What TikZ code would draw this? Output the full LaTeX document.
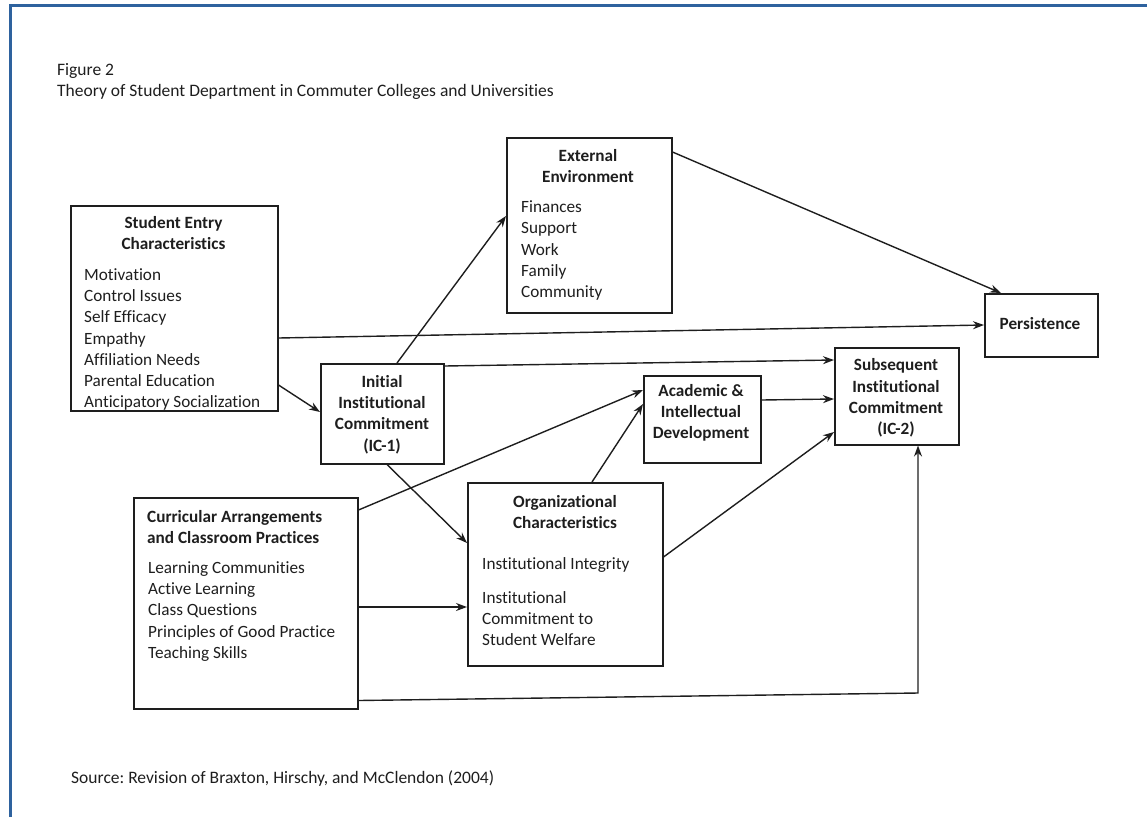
\documentclass[tikz,border=0pt]{standalone}
\usepackage{fontspec}
\setmainfont{Carlito}[Ligatures=NoCommon]
\usetikzlibrary{calc,arrows.meta}
\definecolor{framecol}{RGB}{46,98,158}
\definecolor{ink}{RGB}{30,30,30}
\frenchspacing
\begin{document}
\begin{tikzpicture}[x=1pt,y=-1pt,
  box/.style={draw=ink,line width=1.5pt,inner sep=0pt,anchor=north west},
  txt/.style={text=ink,inner sep=0pt,font=\fontsize{17.2}{21.3}\selectfont},
  ttl/.style={txt,font=\fontsize{17.2}{21.3}\selectfont\bfseries,align=center},
  lst/.style={txt,align=left,anchor=west},
  hdr/.style={txt,anchor=west,font=\fontsize{17.5}{21}\selectfont},
  conn/.style={draw=ink,line width=1.4pt},
  arr/.style={conn,-{Stealth[length=11pt,width=8pt]}}]
\useasboundingbox (0,0) rectangle (1147,817);
\draw[framecol,line width=3pt] (10,817) -- (10,5) -- (1147,5);

% header and footer
\node[hdr] (fig) at (57,71) {Figure 2};
\node[hdr] (title) at (57,92) {Theory of Student Department in Commuter Colleges and Universities};
\node[hdr] (src) at (71,778) {Source: Revision of Braxton, Hirschy, and McClendon (2004)};

% boxes
\node[box,minimum width=207pt,minimum height=205pt] (sec) at (70,205) {};
\node[box,minimum width=165pt,minimum height=175pt] (ext) at (506,137) {};
\node[box,minimum width=123pt,minimum height=100pt] (ic1) at (320,363) {};
\node[box,minimum width=117pt,minimum height=87pt] (acad) at (643,375) {};
\node[box,minimum width=124pt,minimum height=97pt] (sic) at (834,347) {};
\node[box,minimum width=113pt,minimum height=63pt] (pers) at (984,293) {};
\node[box,minimum width=224pt,minimum height=211pt] (cur) at (133,497) {};
\node[box,minimum width=195pt,minimum height=183pt] (org) at (467,482) {};

% texts
\node[ttl] (secT) at (173.5,233) {Student Entry\\Characteristics};
\node[lst] (secL) at (84,339.5) {Motivation\\Control Issues\\Self Efficacy\\Empathy\\Affiliation Needs\\Parental Education\\Anticipatory Socialization};
\node[ttl] (extT) at (588,166) {External\\Environment};
\node[lst] (extL) at (521,250.5) {Finances\\Support\\Work\\Family\\Community};
\node[ttl] (ic1T) at (382,414.5) {Initial\\Institutional\\Commitment\\(IC-1)};
\node[ttl] (acadT) at (701,413) {Academic \&\\Intellectual\\Development};
\node[ttl] (sicT) at (896,398) {Subsequent\\Institutional\\Commitment\\(IC-2)};
\node[ttl] (persT) at (1040,324) {Persistence};
\node[ttl,align=left,anchor=west] (curT) at (147,527) {Curricular Arrangements\\and Classroom Practices};
\node[lst] (curL) at (148,611.5) {Learning Communities\\Active Learning\\Class Questions\\Principles of Good Practice\\Teaching Skills};
\node[ttl] (orgT) at (565,512) {Organizational\\Characteristics};
\node[lst] (orgL1) at (482,565) {Institutional Integrity};
\node[lst] (orgL2) at (482,618.5) {Institutional\\Commitment to\\Student Welfare};

% connectors
\draw[arr] ($(sec.north east)+(0,133)$) -- ($(pers.north west)+(0,32)$);
\draw[arr] ($(sec.north east)+(0,180)$) -- ($(ic1.north west)+(0,49)$);
\draw[arr] ($(ic1.north west)+(77,0)$) -- ($(ext.north west)+(0,79)$);
\draw[arr] ($(ic1.north east)+(0,3)$) -- ($(sic.north west)+(0,13)$);
\draw[arr] ($(ext.north east)+(0,15)$) -- ($(pers.north west)+(17,0)$);
\draw[arr] ($(cur.north east)+(0,13)$) -- ($(acad.north west)+(0,15)$);
\draw[arr] ($(ic1.south west)+(67,0)$) -- ($(org.north west)+(0,61)$);
\draw[arr] ($(org.north west)+(125,0)$) -- ($(acad.north west)+(0,29)$);
\draw[arr] ($(acad.north east)+(0,25)$) -- ($(sic.north west)+(0,52)$);
\draw[arr] ($(org.north east)+(0,75)$) -- ($(sic.north west)+(0,85)$);
\draw[arr] ($(cur.north east)+(0,110)$) -- ($(org.north west)+(0,125)$);
\coordinate (bend) at (918,693);
\draw[arr] ($(cur.south east)+(0,-9)$) -- (bend) -- (bend |- sic.south);
\end{tikzpicture}
\end{document}
